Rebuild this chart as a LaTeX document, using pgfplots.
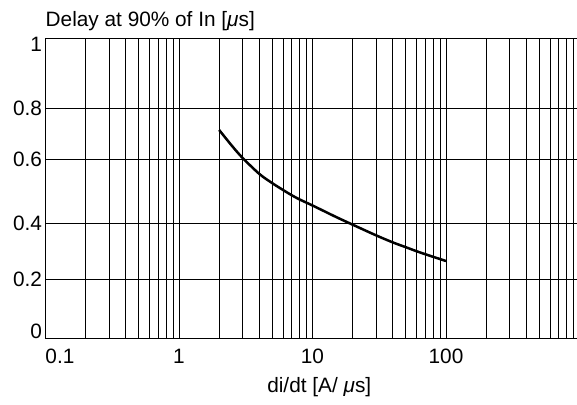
\documentclass[border=0pt]{standalone}
\usepackage{fontspec}
\setmainfont{Liberation Sans}
\usepackage{pgfplots}
\pgfplotsset{compat=1.18}

\begin{document}
\begin{tikzpicture}[font=\fontsize{20.8bp}{24bp}\selectfont]
\begin{axis}[
    scale only axis,
    width=531.5bp, height=300bp,
    xmode=log, xmin=0.1, xmax=958,
    ymin=0, ymax=1,
    % the printed y scale is not evenly spaced; follow its gridlines
    y coord trafo/.code={\pgfmathparse{295*min(#1,0.2)+281.5*max(0,min(#1,0.4)-0.2)+318.5*max(0,min(#1,0.6)-0.4)+255*max(0,min(#1,0.8)-0.6)+350*max(0,#1-0.8)}},
    axis lines=left,
    axis line style={-, black, line width=1bp},
    xtick={0.1,1,10,100},
    xticklabels={\makebox[0pt][l]{0.1},1,10,100},
    minor xtick={0.2,0.3,0.4,0.5,0.6,0.7,0.8,0.9,2,3,4,5,6,7,8,9,20,30,40,50,60,70,80,90,200,300,400,500,600,700,800,900},
    ytick={0,0.2,0.4,0.6,0.8,1},
    yticklabels={\raisebox{7bp}[\height][\depth]{0},0.2,0.4,0.6,0.8,\raisebox{-6bp}[\height][\depth]{1}},
    grid=both,
    major grid style={black, line width=0.75bp},
    minor grid style={black, line width=0.75bp},
    major tick length=0pt, minor tick length=0pt,
    xticklabel style={anchor=base, yshift=-25bp},
    clip=false,
    /pgf/number format/assume math mode=true,
]

\addplot[black, line width=2.5bp, smooth] coordinates {
    (2,0.715) (2.5,0.652) (3,0.605) (4,0.554) (5,0.525) (6,0.504)
    (7,0.487) (8,0.474) (10,0.455) (15,0.419) (20,0.394) (30,0.356)
    (40,0.331) (50,0.314) (60,0.300) (70,0.289) (80,0.280) (100,0.265)
};

\node[anchor=base west, inner sep=0pt] at ([yshift=11.3bp]rel axis cs:0,1) {Delay at 90\% of In [\textit{μ}s]};
\node[anchor=base, inner sep=0pt] at ([xshift=8bp,yshift=-54bp]rel axis cs:0.5,0) {di/dt [A/ \textit{μ}s]};

\coordinate (bl) at (rel axis cs:0,0);
\coordinate (tr) at (rel axis cs:1,1);
\end{axis}
\pgfresetboundingbox
\path[use as bounding box] ([shift={(-45.5bp,-65.7bp)}]bl) rectangle ([yshift=38.3bp]tr);
\end{tikzpicture}
\end{document}
